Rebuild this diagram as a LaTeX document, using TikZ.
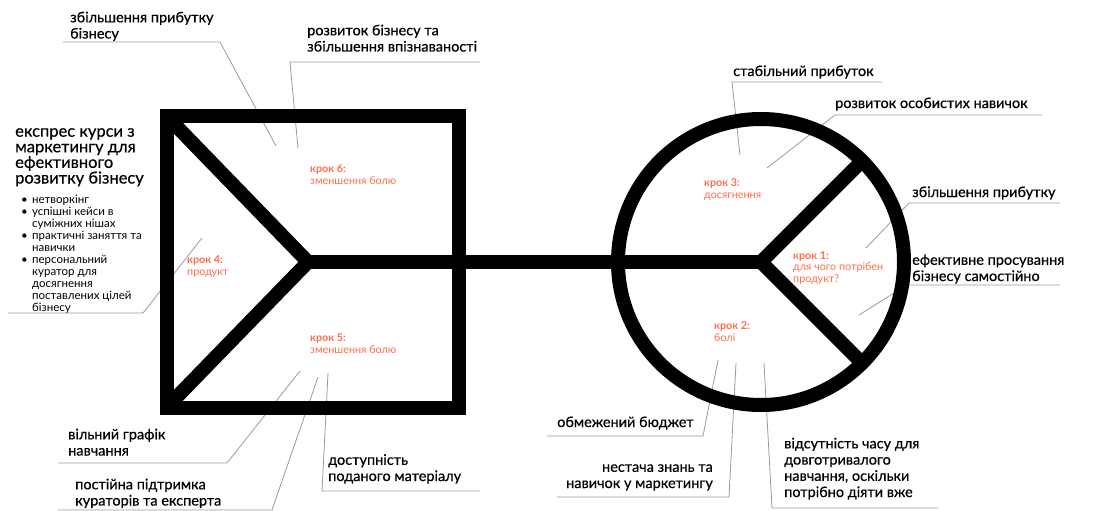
\documentclass[tikz,border=0pt]{standalone}
\usepackage{fontspec}
\setmainfont{Lato}
\newfontfamily\labfont[FakeBold=0.5]{Lato}
\definecolor{kor}{HTML}{FF6E4E}
\definecolor{leadc}{HTML}{9A9A9A}
\tikzset{
  lab/.style={font=\labfont\fontsize{14.5}{16.2}\selectfont, align=left, inner sep=0pt, anchor=base west},
  labr/.style={font=\labfont\fontsize{14.5}{16.2}\selectfont, align=right, inner sep=0pt, anchor=base east},
  headlab/.style={font=\labfont\fontsize{16.5}{15.6}\selectfont, align=left, inner sep=0pt, anchor=base west},
  bul/.style={font=\fontsize{11.5}{11.9}\selectfont, align=left, inner sep=0pt, anchor=base west},
  kroklab/.style={font=\fontsize{10.8}{12}\selectfont, text=kor, align=left, inner sep=0pt, anchor=base west},
  leader/.style={draw=leadc, line width=0.8pt},
  blk/.style={draw=black, line width=14pt, line join=miter}
}
\newcommand{\bl}{\makebox[11pt][l]{•}}
\newcommand{\nb}{\hspace*{11pt}}
\begin{document}
\begin{tikzpicture}[x=1pt,y=-1pt]
\useasboundingbox (0,0) rectangle (1109,511);

% leader line coordinates
\coordinate (a1) at (63,42);   \coordinate (b1) at (220,42);  \coordinate (c1) at (276,146);
\coordinate (a2) at (480,62);  \coordinate (b2) at (290,62);  \coordinate (c2) at (298,148);
\coordinate (a3) at (8,313);   \coordinate (b3) at (143,313); \coordinate (c3) at (202,238);
\coordinate (a4) at (58,463);  \coordinate (b4) at (227,463); \coordinate (c4) at (300,371);
\coordinate (a5) at (58,510);  \coordinate (b5) at (272,510); \coordinate (c5) at (318,377);
\coordinate (a6) at (480,491); \coordinate (b6) at (322,491); \coordinate (c6) at (328,373);
\coordinate (a7) at (882,82);  \coordinate (b7) at (732,82);  \coordinate (c7) at (740,155);
\coordinate (a8) at (1042,115);\coordinate (b8) at (835,115); \coordinate (c8) at (767,168);
\coordinate (a9) at (1060,203);\coordinate (b9) at (909,203); \coordinate (c9) at (866,248);
\coordinate (a10) at (1060,285);\coordinate (b10) at (907,285);\coordinate (c10) at (859,315);
\coordinate (a11) at (547,436);\coordinate (b11) at (703,436);\coordinate (c11) at (718,360);
\coordinate (a12) at (557,497);\coordinate (b12) at (729,497);\coordinate (c12) at (736,363);
\coordinate (a13) at (938,508);\coordinate (b13) at (772,508);\coordinate (c13) at (764,363);

\foreach \i in {1,...,13} {\draw[leader] (a\i) -- (b\i) -- (c\i);}

% black figure
\coordinate (sqA) at (166.5,116);
\coordinate (sqB) at (459,407.5);
\coordinate (lv) at (308,262);
\coordinate (cc) at (761,262);
\coordinate (ltop) at (167,116.5);
\coordinate (lbot) at (167,407);
\coordinate (rtop) at (862,161);
\coordinate (rbot) at (862,363);
\draw[blk] (sqA) rectangle (sqB);
\draw[blk] (ltop) -- (lv) -- (lbot);
\draw[blk] (lv) -- (cc);
\draw[blk] (cc) circle[radius=143];
\draw[blk] (rtop) -- (cc) -- (rbot);

% labels (anchor = baseline of last line)
\node[lab] (t1) at (70,38.5) {збільшення прибутку\\бізнесу};
\node[lab] (t2) at (307,51.5) {розвиток бізнесу та\\збільшення впізнаваності};
\node[headlab] (t3) at (15,183.5) {експрес курси з\\маркетингу для\\ефективного\\розвитку бізнесу};
\node[bul] (t3b) at (21,311) {\bl нетворкінг\\\bl успішні кейси в\\\nb суміжних нішах\\\bl практичні заняття та\\\nb навички\\\bl персональний\\\nb куратор для\\\nb досягнення\\\nb поставлених цілей\\\nb бізнесу};
\node[lab] (t4) at (68,455.5) {вільний графік\\навчання};
\node[lab] (t5) at (75,505.5) {постійна підтримка\\кураторів та експерта};
\node[lab] (t6) at (328,481) {доступність\\поданого матеріалу};
\node[lab] (t7) at (733,76) {стабільний прибуток};
\node[lab] (t8) at (835,108) {розвиток особистих навичок};
\node[lab] (t9) at (912,197) {збільшення прибутку};
\node[lab] (t10) at (912,281) {ефективне просування\\бізнесу самостійно};
\node[lab] (t11) at (557,427) {обмежений бюджет};
\node[labr] (t12) at (713,488) {нестача знань та\\навичок у маркетингу};
\node[lab] (t13) at (784,497) {відсутність часу для\\довготривалого\\навчання, оскільки\\потрібно діяти вже};

% steps
\node[kroklab] (k4) at (187,275) {\textbf{крок 4:}\\продукт};
\node[kroklab] (k6) at (310,184) {\textbf{крок 6:}\\зменшення болю};
\node[kroklab] (k5) at (310,353) {\textbf{крок 5:}\\зменшення болю};
\node[kroklab] (k3) at (704,198) {\textbf{крок 3:}\\досягнення};
\node[kroklab, font=\fontsize{10.8}{11.5}\selectfont] (k1) at (793,282) {\textbf{крок 1:}\\для чого потрібен\\продукт?};
\node[kroklab] (k2) at (714,341) {\textbf{крок 2:}\\болі};
\end{tikzpicture}
\end{document}
